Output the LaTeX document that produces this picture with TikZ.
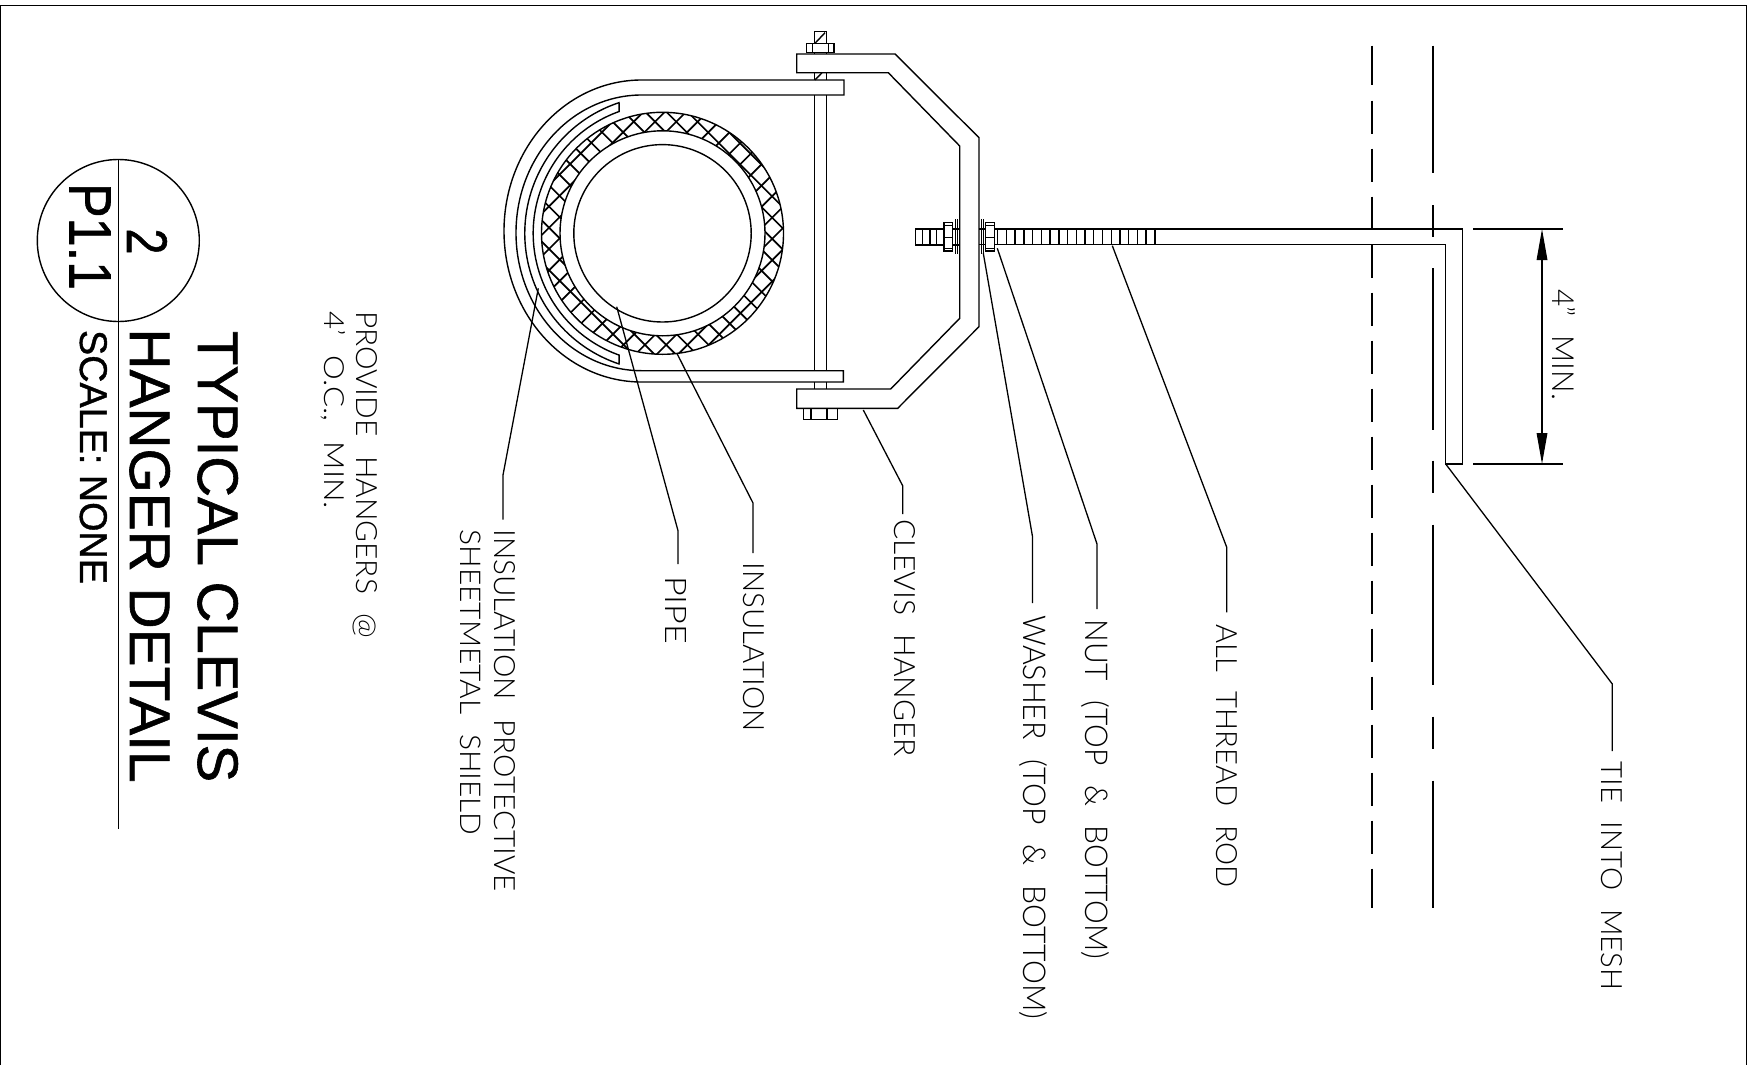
\documentclass[tikz,border=0pt]{standalone}
\usepackage{graphicx}
\usepackage{fontspec}
\setmainfont{Liberation Sans}
\newfontfamily\thinfont[WordSpace=2.4]{Lato Light}
\newfontfamily\ttlfont[FakeBold=1.0]{Liberation Sans}
\usetikzlibrary{arrows.meta}
\tikzset{
  x=1pt,y=1pt,
  ln/.style={line width=1.4pt,line join=miter,draw=black},
  thinln/.style={line width=1.2pt,draw=black},
  dashln/.style={line width=2pt,draw=black},
  hatchln/.style={line width=1.7pt,draw=black},
  leader/.style={line width=1.3pt,draw=black},
  lbl/.style={rotate=-90,anchor=base west,inner sep=0pt,outer sep=0pt,font=\thinfont},
  ttl/.style={rotate=-90,anchor=base west,inner sep=0pt,outer sep=0pt,font=\ttlfont},
  dimarrow/.style={line width=1.3pt,{Triangle[length=31pt,width=10.6pt]}-{Triangle[length=31pt,width=10.6pt]}}
}
\newcommand{\fit}[3]{\resizebox{#1pt}{#2pt}{#3}}
\begin{document}
\begin{tikzpicture}
\useasboundingbox (0,-1065) rectangle (1752,0);
% frame
\draw[line width=1.5pt] (0.7,-1065) -- (0.7,-5.3) -- (1746.7,-5.3) -- (1746.7,-1065);

% named centres
\coordinate (ctr) at (662.5,-233.3);

% insulation hatch
\begin{scope}
\clip (ctr) circle[radius=121pt];
\foreach \k in {-18,...,12}
  \draw[hatchln] ({533.3+21.2*\k+100},-100) -- ({533.3+21.2*\k+370},-370);
\foreach \k in {-8,...,18}
  \draw[hatchln] ({776.7+21.3*\k-100},-100) -- ({776.7+21.3*\k-370},-370);
\end{scope}
\draw[ln] (ctr) circle[radius=121pt];
\draw[ln,fill=white] (ctr) circle[radius=102.5pt];
\draw[ln] (ctr) circle[radius=88.7pt];

% shield
\draw[ln] ([shift={(ctr)}]108.4:137.7pt) arc[start angle=108.4,end angle=251.6,radius=137.7pt]
  -- ([shift={(ctr)}]250.4:129.3pt) arc[start angle=250.4,end angle=109.6,radius=129.3pt] -- cycle;

% pipe strap
\draw[ln] (844,-80) -- (641.7,-80) arc[start angle=90,end angle=270,x radius=137.7pt,y radius=151pt]
  -- (843.3,-382) -- (843.3,-370.7) -- (641.7,-370.7)
  arc[start angle=270,end angle=90,x radius=125.7pt,y radius=137.85pt] -- (844,-95) -- cycle;

% clevis
\draw[ln] (796.7,-54) -- (895,-54) -- (979,-137.7) -- (979,-326.7) -- (897.7,-408.3) -- (796.7,-408.3)
  -- (796.7,-389) -- (890.7,-389) -- (959.7,-318.3) -- (959.7,-146) -- (888.3,-72.7) -- (796.7,-72.7) -- cycle;

% clevis bolt
\draw[ln] (814.3,-95) -- (814.3,-370.7) (826.3,-95) -- (826.3,-370.7);
\draw[ln] (814.3,-72.7) -- (814.3,-80) (826.3,-72.7) -- (826.3,-80);
\draw[ln] (815,-80) -- (822,-72.7);
\draw[ln] (814.3,-382) -- (814.3,-389) (826.3,-382) -- (826.3,-389);
\draw[ln] (814.3,-31.7) rectangle (826.3,-43.3);
\draw[ln] (815,-43.3) -- (825,-32.7);
\draw[ln] (806.7,-43.3) rectangle (834,-52.7);
\draw[ln] (812.7,-43.3) -- (812.7,-52.7) (828.3,-43.3) -- (828.3,-52.7);
\draw[ln] (814.3,-52.7) -- (814.3,-54) (826.3,-52.7) -- (826.3,-54);
\draw[ln] (803.7,-408.3) rectangle (837.3,-419.3);
\draw[ln] (811,-408.3) -- (811,-419.3) (827,-408.3) -- (827,-419.3);

% threaded rod
\draw[ln] (959.7,-229) -- (915.7,-229) -- (915.7,-245) -- (959.7,-245);
\draw[ln] (979,-229) -- (1462.7,-229) -- (1462.7,-464) -- (1445.7,-464) -- (1445.7,-244.7) -- (979,-244.7);
\foreach \t in {922.7,930,936.7}
  \draw[ln] (\t,-229) -- (\t,-245);
\foreach \k in {0,...,18}
  \draw[ln] ({997.7+8.73*\k},-229) -- ({997.7+8.73*\k},-245);
% nuts and washers
\foreach \a/\b in {944/952.7,985.7/994.3} {
  \draw[ln,fill=white] (\a,-222.7) rectangle (\b,-251);
  \draw[ln] (\a,-225.5) -- (\b,-225.5) (\a,-237.3) -- (\b,-237.3) (\a,-248.3) -- (\b,-248.3);
}
\draw[thinln] (955.7,-219.3) -- (955.7,-254) (957.3,-219.3) -- (957.3,-254);
\draw[thinln] (981.5,-219.3) -- (981.5,-254) (983.2,-219.3) -- (983.2,-254);

% structure lines (long dash / short dash patterns)
\draw[dashln] (1371.7,-45.7) -- (1371.7,-85);
\foreach \k in {0,...,15}
  \draw[dashln] (1371.7,{-100.7-48*\k}) -- (1371.7,{-133.7-48*\k});
\draw[dashln] (1371.7,-868.7) -- (1371.7,-908.3);
\draw[dashln] (1433.3,-45.7) -- (1433.3,-173.3);
\draw[dashln] (1433.3,-205) -- (1433.3,-237.3);
\draw[dashln] (1433.3,-268.3) -- (1433.3,-430);
\draw[dashln] (1433.3,-460.7) -- (1433.3,-493.3);
\draw[dashln] (1433.3,-524.7) -- (1433.3,-685);
\draw[dashln] (1433.3,-716.7) -- (1433.3,-749.3);
\draw[dashln] (1433.3,-780.7) -- (1433.3,-908.3);

% dimension
\coordinate (dimA) at (1542,-229);
\coordinate (dimB) at (1542,-464);
\draw[thinln] (1473,-229) -- (1562.7,-229) (1473,-464) -- (1562.7,-464);
\draw[dimarrow] (dimA) -- (dimB);
\node[lbl] (dimtext) at (1552.5,-289) {\fit{111}{23}{4” MIN.}};

% callout labels
\node[lbl] (tie)   at (1601,-761.5)  {\fit{229}{21}{TIE INTO MESH}};
\node[lbl] (rod)   at (1216,-624)    {\fit{264}{21}{ALL THREAD ROD}};
\node[lbl] (nut)   at (1085,-619.5)  {\fit{340}{24}{NUT (TOP \& BOTTOM)}};
\node[lbl] (wash)  at (1023,-615.5)  {\fit{404}{24}{WASHER (TOP \& BOTTOM)}};
\node[lbl] (clev)  at (894,-519)     {\fit{238}{21}{CLEVIS HANGER}};
\node[lbl] (insul) at (743,-562.5)   {\fit{169}{21}{INSULATION}};
\node[lbl] (pipe)  at (665.5,-576)   {\fit{68}{21}{PIPE}};
\node[lbl] (prot)  at (494,-529.5)   {\fit{362}{21}{INSULATION PROTECTIVE}};
\node[lbl] (sheet) at (460.5,-529.5) {\fit{306}{20.5}{SHEETMETAL SHIELD}};
\node[lbl] (prov)  at (356,-311)     {\fit{327}{21}{PROVIDE HANGERS @}};
\node[lbl] (oc)    at (324,-311)     {\fit{198}{21}{4’ O.C., MIN.}};

% title
\node[ttl] (title1) at (198,-331)    {\fit{451}{40}{TYPICAL CLEVIS}};
\node[ttl] (title2) at (130,-328.5)  {\fit{454}{40}{HANGER DETAIL}};
\node[ttl] (scale)  at (80,-330)     {\fit{254}{27}{SCALE: NONE}};
\node[ttl] (sheetno) at (69.5,-183)  {\fit{107}{41}{P1.1}};
\node[ttl] (detno)  at (127,-228.5)  {\fit{26}{40}{2}};
\coordinate (bubble) at (118.3,-240.5);
\coordinate (ruleEnd) at (118.3,-829);
\draw[ln] (bubble) circle[radius=81pt];
\draw[ln] (118.3,-159.5) -- (ruleEnd);

% leaders
\foreach \tip/\elbow/\stub in {
  {538.3,-288.3}/{503,-475}/{503,-519.6},
  {616.7,-306.7}/{678,-530.7}/{678,-564},
  {676.7,-353}/{753,-503}/{753,-553},
  {863.3,-410}/{902.8,-486}/{902.8,-514},
  {983.3,-253.3}/{1032.4,-536}/{1032.4,-603},
  {997.3,-248.3}/{1097,-544}/{1097,-609},
  {1112.3,-245.7}/{1226.8,-547.5}/{1226.8,-612.3},
  {1445.7,-464}/{1612.3,-684}/{1612.3,-751}}
  \draw[leader] (\tip) -- (\elbow) -- (\stub);
\end{tikzpicture}
\end{document}
